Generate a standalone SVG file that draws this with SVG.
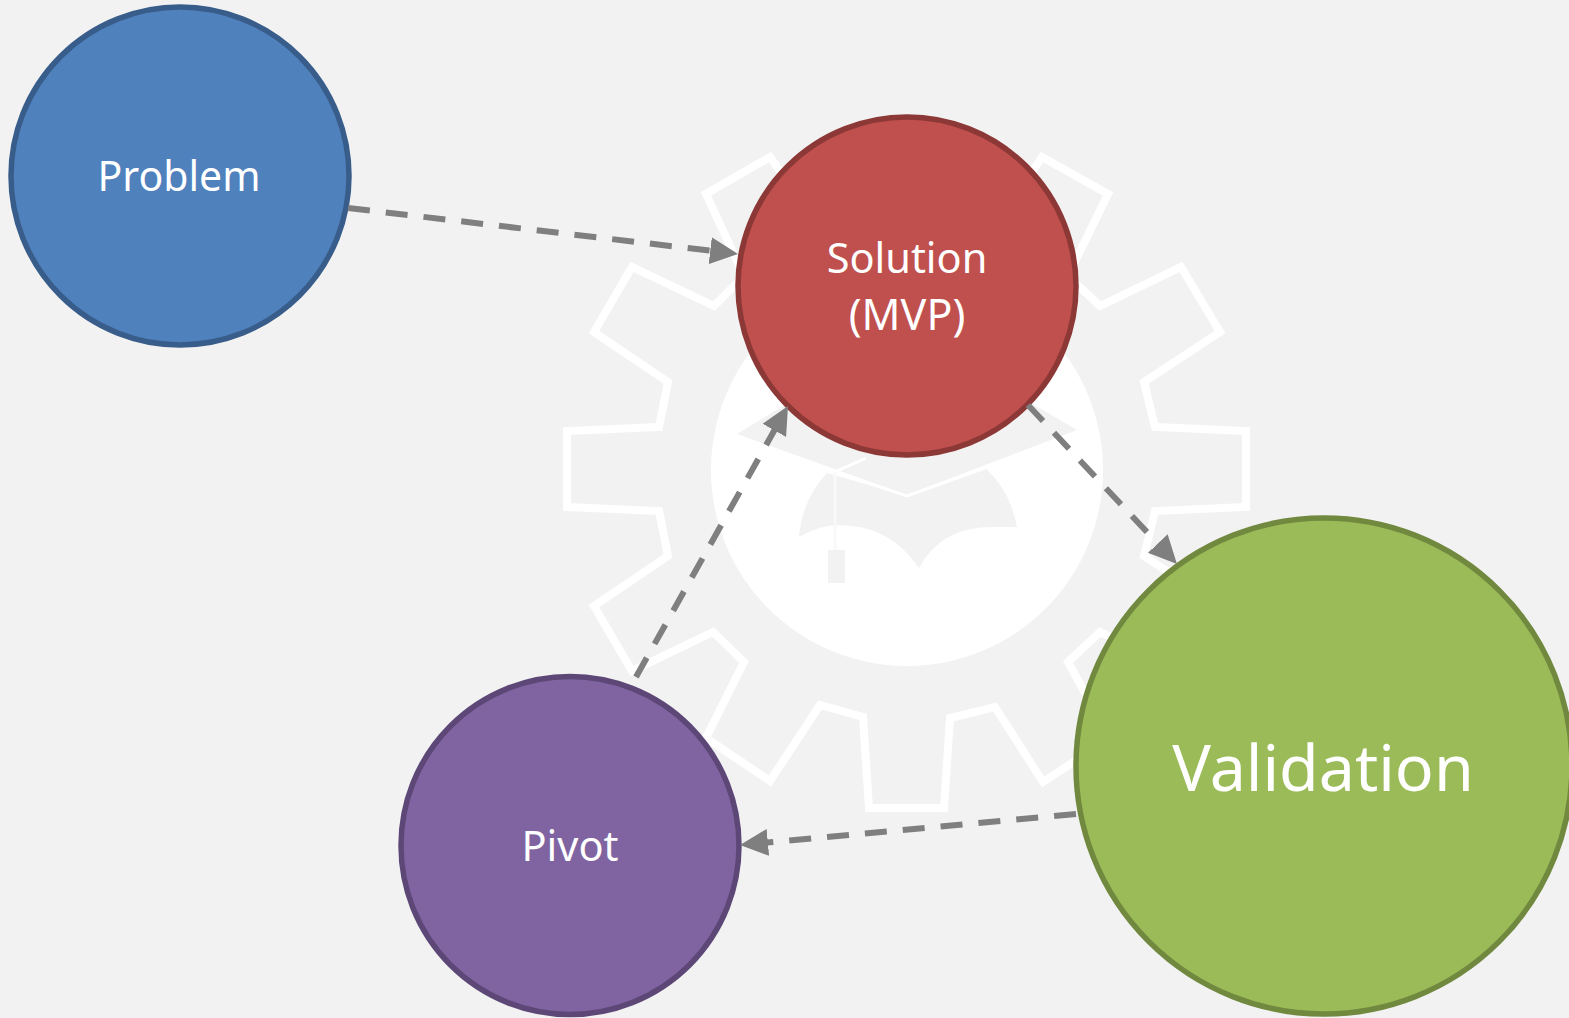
<svg xmlns="http://www.w3.org/2000/svg" width="1569" height="1018" viewBox="0 0 1569 1018">
<style>
.node{stroke-width:5.500}
.lbl{font-family:"Noto Sans","Open Sans",sans-serif;fill:#fff;text-anchor:middle}
.conn{fill:none;stroke:#7f7f7f;stroke-width:6;stroke-dasharray:22 16;marker-end:url(#arrow)}
</style>
<defs>
<marker id="arrow" markerUnits="userSpaceOnUse" markerWidth="30" markerHeight="28" refX="1" refY="13.500" orient="auto"><path d="M0 0L28 13.500L0 27Z" fill="#7f7f7f"/></marker>
</defs>
<rect width="1569" height="1018" fill="#f2f2f2"/>
<g id="gear">
<path d="M770 157L706 194L744 276L714 306L632 267L594 332L668 382L659 427L567 431L567 507L659 511L668 556L594 606L632 671L713 632L744 662L706 738L770 781L820 705L863 717L869 808L944 808L950 718L995 707L1043 782L1110 738L1068 662L1100 632L1181 671L1220 606L1144 556L1155 511L1246 507L1246 431L1155 427L1144 382L1220 332L1181 267L1100 306L1068 276L1108 194L1042 157L1000 220L815 220Z" fill="none" stroke="#fff" stroke-width="8"/>
<circle cx="907" cy="470" r="196" fill="#fff"/>
<path d="M737 434L907 495L1077 430L907 330Z" fill="#f2f2f2"/>
<path d="M827 473Q802 500 799 537Q820 525 838 525Q890 525 919 568Q940 528 990 527L1017 527Q1010 490 985 468L907 496Z" fill="#f2f2f2"/>
<path d="M866 458L835 472L907 496L985 468" fill="none" stroke="#fff" stroke-width="3"/>
<path d="M835 472V550" fill="none" stroke="#f9f9f9" stroke-width="3"/>
<rect x="828" y="550" width="17" height="33" fill="#f2f2f2"/>
</g>
<g id="problem"><circle class="node" cx="180" cy="176" r="169" fill="#4f81bd" stroke="#385d8a"/><text class="lbl" x="179" y="191" font-size="41">Problem</text></g>
<g id="solution"><circle class="node" cx="907" cy="286" r="169" fill="#c0504d" stroke="#8c3836"/><text class="lbl" x="907" y="273" font-size="41.500">Solution</text><text class="lbl" x="907" y="330" font-size="43">(MVP)</text></g>
<g id="validation"><circle class="node" cx="1324" cy="766" r="248" fill="#9bbb59" stroke="#71893f"/><text class="lbl" x="1323" y="791" font-size="64.500">Validation</text></g>
<g id="pivot"><circle class="node" cx="570" cy="845.500" r="169" fill="#8064a2" stroke="#5c4776"/><text class="lbl" x="570" y="861" font-size="41.500">Pivot</text></g>
<g id="connectors">
<path class="conn" d="M348 208L711.200 250.800"/>
<path class="conn" d="M1028 405L1158.500 544.300"/>
<path class="conn" d="M1076 814L766.900 842.500"/>
<path class="conn" d="M636 677L774.800 429.500"/>
</g>
</svg>
